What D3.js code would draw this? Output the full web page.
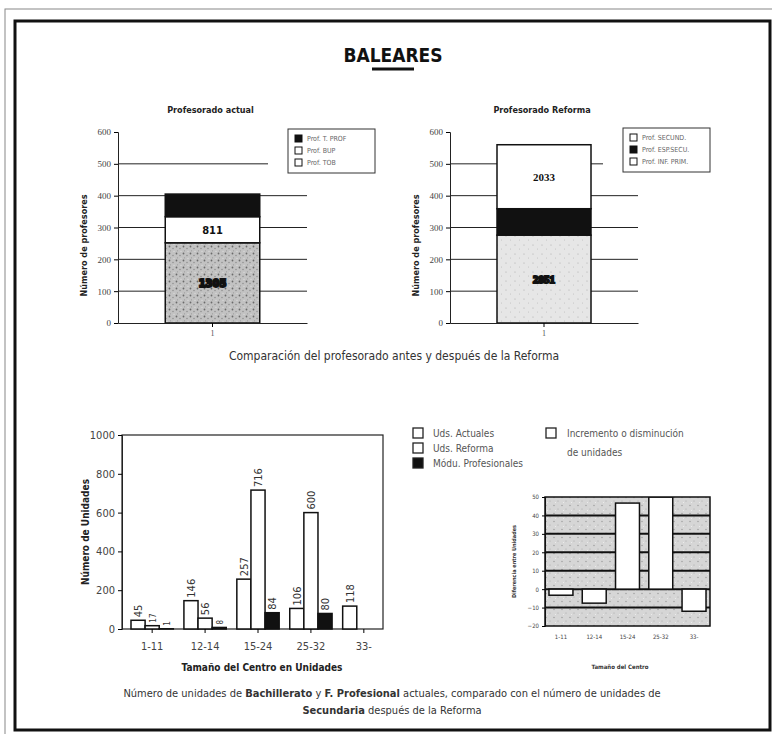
<!DOCTYPE html>
<html>
<head>
<meta charset="utf-8">
<script src="https://cdn.jsdelivr.net/npm/d3@7"></script>
<style>
  body { margin: 0; background: #fff; }
  svg { display: block; }
  .narrow { font-family: "Liberation Sans Narrow", "Arial Narrow", "DejaVu Sans Condensed", sans-serif; }
  .serif { font-family: "Liberation Serif", "Times New Roman", serif; }
</style>
</head>
<body>
<div id="page"></div>
<script>
// --- data ---
var profCats = ["1"];
var actualSeries = ["Prof. T. PROF", "Prof. BUP", "Prof. TOB"];
var actualValues = [71, 82, 252];
var actualLabels = ["", "811", "1305"];
var reformaSeries = ["Prof. SECUND.", "Prof. ESP.SECU.", "Prof. INF. PRIM."];
var reformaValues = [201, 83, 276];
var reformaLabels = ["2033", "", "2851"];
var profTicks = [0, 100, 200, 300, 400, 500, 600];

var sizeCats = ["1-11", "12-14", "15-24", "25-32", "33-"];
var udsSeries = ["Uds. Actuales", "Uds. Reforma", "Módu. Profesionales"];
var udsActuales = [45, 146, 257, 106, 118];
var udsReforma = [17, 56, 716, 600, 0];
var modulos = [1, 8, 84, 80, 0];
var udsTicks = [0, 200, 400, 600, 800, 1000];

var difValues = [-3.3, -7.6, 46.7, 50, -12];
var difTicks = [-20, -10, 0, 10, 20, 30, 40, 50];

var W = 772, H = 734;
var svg = d3.select("#page").append("svg")
  .attr("width", W)
  .attr("height", H);

var defs = svg.append("defs");
var speck = defs.append("pattern").attr("id", "speck")
  .attr("width", 7).attr("height", 7).attr("patternUnits", "userSpaceOnUse");
speck.append("rect").attr("width", 7).attr("height", 7).attr("fill", "#c2c2c2");
speck.append("circle").attr("cx", 1.5).attr("cy", 1.5).attr("r", 0.9).attr("fill", "#6a6a6a");
speck.append("circle").attr("cx", 5).attr("cy", 3.5).attr("r", 0.7).attr("fill", "#888");
speck.append("circle").attr("cx", 2.5).attr("cy", 5.8).attr("r", 0.6).attr("fill", "#999");
speck.append("circle").attr("cx", 6).attr("cy", 6.3).attr("r", 0.5).attr("fill", "#eee");

var speckLight = defs.append("pattern").attr("id", "speckLight")
  .attr("width", 9).attr("height", 9).attr("patternUnits", "userSpaceOnUse");
speckLight.append("rect").attr("width", 9).attr("height", 9).attr("fill", "#e6e6e6");
speckLight.append("circle").attr("cx", 2).attr("cy", 2).attr("r", 0.6).attr("fill", "#aaa");
speckLight.append("circle").attr("cx", 6.5).attr("cy", 6).attr("r", 0.5).attr("fill", "#bbb");

var speckMid = defs.append("pattern").attr("id", "speckMid")
  .attr("width", 8).attr("height", 8).attr("patternUnits", "userSpaceOnUse");
speckMid.append("rect").attr("width", 8).attr("height", 8).attr("fill", "#d6d6d6");
speckMid.append("circle").attr("cx", 2).attr("cy", 1.5).attr("r", 0.7).attr("fill", "#999");
speckMid.append("circle").attr("cx", 6).attr("cy", 5).attr("r", 0.6).attr("fill", "#a8a8a8");
speckMid.append("circle").attr("cx", 3.5).attr("cy", 6.5).attr("r", 0.5).attr("fill", "#f2f2f2");

// page frame
svg.append("rect").attr("x", 5).attr("y", 9).attr("width", 775).attr("height", 740)
  .attr("fill", "none").attr("stroke", "#888").attr("stroke-width", 1);
svg.append("rect").attr("x", 15).attr("y", 21).attr("width", 755).attr("height", 709)
  .attr("fill", "none").attr("stroke", "#111").attr("stroke-width", 3);

svg.append("text")
  .attr("x", 393).attr("y", 62)
  .attr("text-anchor", "middle")
  .attr("class", "narrow")
  .attr("font-size", "19px").attr("font-weight", "bold").attr("fill", "#111")
  .text("BALEARES");
svg.append("line").attr("x1", 372).attr("x2", 414).attr("y1", 69).attr("y2", 69)
  .attr("stroke", "#111").attr("stroke-width", 3);

// --- top charts: professors ---
var yProf = d3.scaleLinear().domain([0, 600]).range([323, 132]);

function profChart(cfg) {
  var g = svg.append("g");
  var x = d3.scaleBand().domain(profCats).range([cfg.x0, cfg.x1]).paddingOuter(0.5).paddingInner(0);

  // gridlines, the ones crossing the legend stop short of it
  g.selectAll(".grid").data(profTicks.slice(1, -1)).enter().append("line")
    .attr("x1", cfg.x0)
    .attr("x2", d => (yProf(d) > cfg.legY - 4 && yProf(d) < cfg.legY + 46) ? cfg.legX - 20 : cfg.x1)
    .attr("y1", d => yProf(d)).attr("y2", d => yProf(d))
    .attr("stroke", "#222").attr("stroke-width", 1);

  // stacked bar, first legend entry is the top of the stack
  var row = {cat: profCats[0]};
  cfg.series.forEach((s, i) => row[s] = cfg.values[i]);
  var keys = cfg.series.slice().reverse();
  var stacked = d3.stack().keys(keys)([row]);

  g.selectAll(".seg").data(stacked).enter().append("rect")
    .attr("x", x(profCats[0]))
    .attr("width", x.bandwidth())
    .attr("y", d => yProf(d[0][1]))
    .attr("height", d => yProf(d[0][0]) - yProf(d[0][1]))
    .attr("fill", d => cfg.fills[cfg.series.indexOf(d.key)])
    .attr("stroke", "#111").attr("stroke-width", 1.5);

  g.selectAll(".lab").data(stacked).enter().append("text")
    .attr("x", x(profCats[0]) + x.bandwidth() / 2)
    .attr("y", d => yProf((d[0][0] + d[0][1]) / 2))
    .attr("dy", "0.35em")
    .attr("text-anchor", "middle")
    .attr("class", cfg.labelFont)
    .attr("font-size", "11px").attr("font-weight", "bold")
    .attr("fill", "#111")
    .attr("stroke", d => cfg.blob[cfg.series.indexOf(d.key)] ? "#111" : "none")
    .attr("stroke-width", 2)
    .text(d => cfg.labels[cfg.series.indexOf(d.key)]);

  var yAxis = d3.axisLeft(yProf).tickValues(profTicks).tickSize(4).tickFormat(d3.format("d"));
  var ay = g.append("g").attr("transform", `translate(${cfg.x0},0)`).call(yAxis);
  ay.selectAll("text").attr("class", "serif").attr("font-size", "9px").attr("fill", "#444");
  ay.select(".domain").attr("stroke", "#222");

  var xAxis = d3.axisBottom(x).tickSize(4).tickSizeOuter(0);
  var ax = g.append("g").attr("transform", `translate(0,${yProf(0)})`).call(xAxis);
  ax.selectAll("text").attr("class", "serif").attr("font-size", "8px").attr("fill", "#555");
  ax.select(".domain").attr("stroke", "#222");

  g.append("text")
    .attr("x", (cfg.x0 + cfg.x1) / 2 - 2).attr("y", 113)
    .attr("text-anchor", "middle").attr("class", "narrow")
    .attr("font-size", "9px").attr("font-weight", "bold").attr("fill", "#222")
    .text(cfg.title);

  g.append("text")
    .attr("transform", `translate(${cfg.x0 - 31},${yProf(300) + 18}) rotate(-90)`)
    .attr("text-anchor", "middle").attr("class", "narrow")
    .attr("font-size", "9px").attr("font-weight", "bold").attr("fill", "#222")
    .text("Número de profesores");

  // legend
  var leg = g.append("g").attr("transform", `translate(${cfg.legX},${cfg.legY})`);
  leg.append("rect").attr("width", 87).attr("height", 44)
    .attr("fill", "#fff").attr("stroke", "#333").attr("stroke-width", 1);
  var items = leg.selectAll(".item").data(cfg.series).enter().append("g")
    .attr("transform", (d, i) => `translate(7,${10 + i * 12})`);
  items.append("rect").attr("y", -4).attr("width", 7).attr("height", 7)
    .attr("fill", (d, i) => cfg.legFills[i]).attr("stroke", "#111").attr("stroke-width", 1);
  items.append("text").attr("x", 12).attr("dy", "0.3em")
    .attr("class", "narrow").attr("font-size", "7px").attr("fill", "#666")
    .text(d => d);
}

profChart({
  x0: 118, x1: 307, title: "Profesorado actual",
  series: actualSeries, values: actualValues, labels: actualLabels,
  fills: ["#111", "#fff", "url(#speck)"],
  legFills: ["#111", "#fff", "#fff"],
  labelFont: "narrow",
  blob: [false, false, true],
  legX: 288, legY: 129
});
profChart({
  x0: 450, x1: 638, title: "Profesorado Reforma",
  series: reformaSeries, values: reformaValues, labels: reformaLabels,
  fills: ["#fff", "#111", "url(#speckLight)"],
  legFills: ["#fff", "#111", "#fff"],
  labelFont: "serif",
  blob: [false, false, true],
  legX: 623, legY: 128
});

svg.append("text")
  .attr("x", 394).attr("y", 360)
  .attr("text-anchor", "middle").attr("class", "narrow")
  .attr("font-size", "12px").attr("fill", "#333")
  .text("Comparación del profesorado antes y después de la Reforma");

// --- bottom left: units by centre size ---
var bx0 = 122, bx1 = 383, by0 = 435, by1 = 629;
var yU = d3.scaleLinear().domain([0, 1000]).range([by1, by0]);
var xU = d3.scaleBand().domain(sizeCats).range([bx0, 394]).paddingInner(0.2).paddingOuter(0.17);
var xSub = d3.scaleBand().domain(udsSeries).range([0, xU.bandwidth()]);

var udsRows = sizeCats.map((c, i) => ({cat: c, vals: [udsActuales[i], udsReforma[i], modulos[i]]}));
var udsFills = ["#fff", "#fff", "#111"];

var gb = svg.append("g");
gb.append("rect").attr("x", bx0).attr("y", by0).attr("width", bx1 - bx0).attr("height", by1 - by0)
  .attr("fill", "none").attr("stroke", "#222").attr("stroke-width", 1.2);

var groups = gb.selectAll(".grp").data(udsRows).enter().append("g")
  .attr("transform", d => `translate(${xU(d.cat)},0)`);
groups.selectAll("rect").data(d => d.vals.map((v, i) => ({v: v, s: udsSeries[i], i: i})).filter(e => e.v > 0))
  .enter().append("rect")
  .attr("x", d => xSub(d.s))
  .attr("width", xSub.bandwidth())
  .attr("y", d => yU(d.v))
  .attr("height", d => yU(0) - yU(d.v))
  .attr("fill", d => udsFills[d.i])
  .attr("stroke", "#111").attr("stroke-width", 1.5);
groups.selectAll("text").data(d => d.vals.map((v, i) => ({v: v, s: udsSeries[i]})).filter(e => e.v > 0))
  .enter().append("text")
  .attr("transform", d => `translate(${xSub(d.s) + xSub.bandwidth() / 2 + 4},${yU(d.v) - 3}) rotate(-90)`)
  .attr("class", "narrow").attr("font-size", d => d.v < 20 ? "8px" : "11px").attr("fill", "#333")
  .text(d => d.v);

var yAxU = d3.axisLeft(yU).tickValues(udsTicks).tickSize(4).tickFormat(d3.format("d"));
var ayU = gb.append("g").attr("transform", `translate(${bx0},0)`).call(yAxU);
ayU.selectAll("text").attr("class", "narrow").attr("font-size", "11px").attr("fill", "#444");
ayU.select(".domain").attr("stroke", "#222");

var xAxU = d3.axisBottom(xU).tickSize(4).tickSizeOuter(0);
var axU = gb.append("g").attr("transform", `translate(0,${by1})`).call(xAxU);
axU.selectAll("text").attr("class", "narrow").attr("font-size", "11px").attr("fill", "#444").attr("dy", "1.3em");
axU.select(".domain").remove();

gb.append("text")
  .attr("transform", `translate(89,${(by0 + by1) / 2}) rotate(-90)`)
  .attr("text-anchor", "middle").attr("class", "narrow")
  .attr("font-size", "10px").attr("font-weight", "bold").attr("fill", "#222")
  .text("Número de Unidades");
gb.append("text")
  .attr("x", 262).attr("y", 671)
  .attr("text-anchor", "middle").attr("class", "narrow")
  .attr("font-size", "10px").attr("font-weight", "bold").attr("fill", "#222")
  .text("Tamaño del Centro en Unidades");

// legend for both bottom charts
var legB = svg.append("g").attr("transform", "translate(413,433)");
var legItems = legB.selectAll(".li").data(udsSeries).enter().append("g")
  .attr("transform", (d, i) => `translate(0,${i * 15})`);
legItems.append("rect").attr("y", -5).attr("width", 10).attr("height", 10)
  .attr("fill", (d, i) => udsFills[i]).attr("stroke", "#222").attr("stroke-width", 1.3);
legItems.append("text").attr("x", 20).attr("dy", "0.35em")
  .attr("class", "narrow").attr("font-size", "10px").attr("fill", "#555")
  .text(d => d);
legB.append("rect").attr("x", 133).attr("y", -5).attr("width", 10).attr("height", 10)
  .attr("fill", "#fff").attr("stroke", "#222").attr("stroke-width", 1.3);
legB.append("text").attr("x", 154).attr("dy", "0.35em")
  .attr("class", "narrow").attr("font-size", "10px").attr("fill", "#555")
  .text("Incremento o disminución");
legB.append("text").attr("x", 154).attr("y", 19).attr("dy", "0.35em")
  .attr("class", "narrow").attr("font-size", "10px").attr("fill", "#555")
  .text("de unidades");

// --- bottom right: difference chart ---
var sx0 = 545, sx1 = 710;
var yD = d3.scaleLinear().domain([-20, 50]).range([626, 497]);
var xD = d3.scaleBand().domain(sizeCats).range([sx0, sx1]).paddingInner(0.28).paddingOuter(0.12);

var gd = svg.append("g");
defs.append("clipPath").attr("id", "difClip").append("rect")
  .attr("x", sx0).attr("y", yD(50)).attr("width", sx1 - sx0).attr("height", yD(-20) - yD(50));

gd.append("rect").attr("x", sx0).attr("y", yD(50)).attr("width", sx1 - sx0).attr("height", yD(-20) - yD(50))
  .attr("fill", "url(#speckMid)");
gd.selectAll(".dgrid").data(difTicks.slice(1, -1)).enter().append("line")
  .attr("x1", sx0).attr("x2", sx1)
  .attr("y1", d => yD(d)).attr("y2", d => yD(d))
  .attr("stroke", "#111").attr("stroke-width", 2);
gd.append("g").attr("clip-path", "url(#difClip)")
  .selectAll("rect").data(sizeCats).enter().append("rect")
  .attr("x", d => xD(d))
  .attr("width", xD.bandwidth())
  .attr("y", (d, i) => yD(Math.max(0, difValues[i])))
  .attr("height", (d, i) => Math.abs(yD(difValues[i]) - yD(0)))
  .attr("fill", "#fff").attr("stroke", "#111").attr("stroke-width", 1.5);
gd.append("rect").attr("x", sx0).attr("y", yD(50)).attr("width", sx1 - sx0).attr("height", yD(-20) - yD(50))
  .attr("fill", "none").attr("stroke", "#111").attr("stroke-width", 1.5);

var ayD = gd.append("g").attr("transform", `translate(${sx0},0)`)
  .call(d3.axisLeft(yD).tickValues(difTicks).tickSize(3));
ayD.selectAll("text").attr("class", "narrow").attr("font-size", "6px").attr("fill", "#444");
ayD.select(".domain").attr("stroke", "#111");
var axD = gd.append("g").attr("transform", `translate(0,${yD(-20)})`)
  .call(d3.axisBottom(xD).tickSize(0).tickSizeOuter(0));
axD.selectAll("text").attr("class", "narrow").attr("font-size", "6px").attr("fill", "#444").attr("dy", "1.6em");
axD.select(".domain").remove();

gd.append("text")
  .attr("transform", `translate(516,${yD(15)}) rotate(-90)`)
  .attr("text-anchor", "middle").attr("class", "narrow")
  .attr("font-size", "5.5px").attr("font-weight", "bold").attr("fill", "#333")
  .text("Diferencia entre Unidades");
gd.append("text")
  .attr("x", 620).attr("y", 669)
  .attr("text-anchor", "middle").attr("class", "narrow")
  .attr("font-size", "6px").attr("font-weight", "bold").attr("fill", "#333")
  .text("Tamaño del Centro");

// caption
var cap = svg.append("text").attr("class", "narrow")
  .attr("text-anchor", "middle").attr("font-size", "11px").attr("fill", "#333");
var l1 = cap.append("tspan").attr("x", 392).attr("y", 697);
l1.append("tspan").text("Número de unidades de ");
l1.append("tspan").attr("font-weight", "bold").text("Bachillerato");
l1.append("tspan").text("  y ");
l1.append("tspan").attr("font-weight", "bold").text("F. Profesional");
l1.append("tspan").text(" actuales, comparado con el número de unidades de");
var l2 = cap.append("tspan").attr("x", 392).attr("y", 714);
l2.append("tspan").attr("font-weight", "bold").text("Secundaria");
l2.append("tspan").text(" después de la Reforma");
</script>
</body>
</html>
